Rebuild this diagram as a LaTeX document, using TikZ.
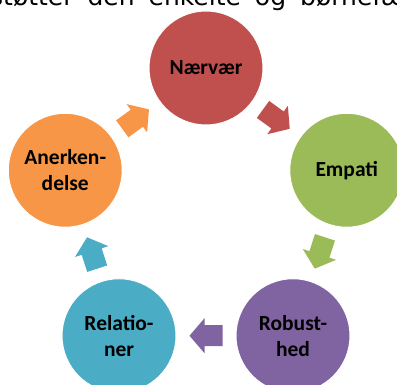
\documentclass[tikz,border=0pt]{standalone}
\usepackage{fontspec}
\setmainfont{Carlito}
\newfontfamily\capfont{DejaVu Sans}
\usetikzlibrary{calc}
\definecolor{cred}{HTML}{C0504D}
\definecolor{cgreen}{HTML}{9BBB59}
\definecolor{cpurple}{HTML}{8064A2}
\definecolor{cblue}{HTML}{4BACC6}
\definecolor{corange}{HTML}{F79646}
\tikzset{
  bubble/.style={circle, minimum size=114pt, inner sep=0pt, draw=white, line width=1pt,
    font=\bfseries\fontsize{21.5}{26}\selectfont, align=center, text=black},
  blockarrow/.pic={
    \fill[pic actions] (-16.5,-10.5) -- (1.5,-10.5) -- (1.5,-17.5) -- (16.5,0)
      -- (1.5,17.5) -- (1.5,10.5) -- (-16.5,10.5) -- cycle;
  },
  caption/.style={anchor=base west, inner sep=0pt,
    font=\capfont\fontsize{25}{30}\selectfont, text=black}
}
\begin{document}
\begin{tikzpicture}[x=1pt,y=1pt]
\clip (0,0) rectangle (397,385);
\coordinate (c) at (206,169);
\node[bubble, fill=cred]    (n1) at ($(c)+(90:148)$)   {Nærvær};
\node[bubble, fill=cgreen]  (n2) at ($(c)+(18:148)$)   {Empati};
\node[bubble, fill=cpurple] (n3) at ($(c)+(-54:148)$)  {Robust-\\hed};
\node[bubble, fill=cblue]   (n4) at ($(c)+(-126:148)$) {Relatio-\\ner};
\node[bubble, fill=corange] (n5) at ($(c)+(162:148)$)  {Anerken-\\delse};
\coordinate (m1) at ($(n1)!0.5!(n2)$);
\coordinate (m2) at ($(n2)!0.5!(n3)$);
\coordinate (m3) at ($(n3)!0.5!(n4)$);
\coordinate (m4) at ($(n4)!0.5!(n5)$);
\coordinate (m5) at ($(n5)!0.5!(n1)$);
\pic[fill=cred, rotate=-36]    at (m1) {blockarrow};
\pic[fill=cgreen, rotate=-108] at (m2) {blockarrow};
\pic[fill=cpurple, rotate=180] at (m3) {blockarrow};
\pic[fill=cblue, rotate=108]   at (m4) {blockarrow};
\pic[fill=corange, rotate=36]  at (m5) {blockarrow};
\node[caption] (cap) at (-10,379) {\spaceskip=14pt\relax støtter den enkelte og børnefællesskabet};
\end{tikzpicture}
\end{document}
